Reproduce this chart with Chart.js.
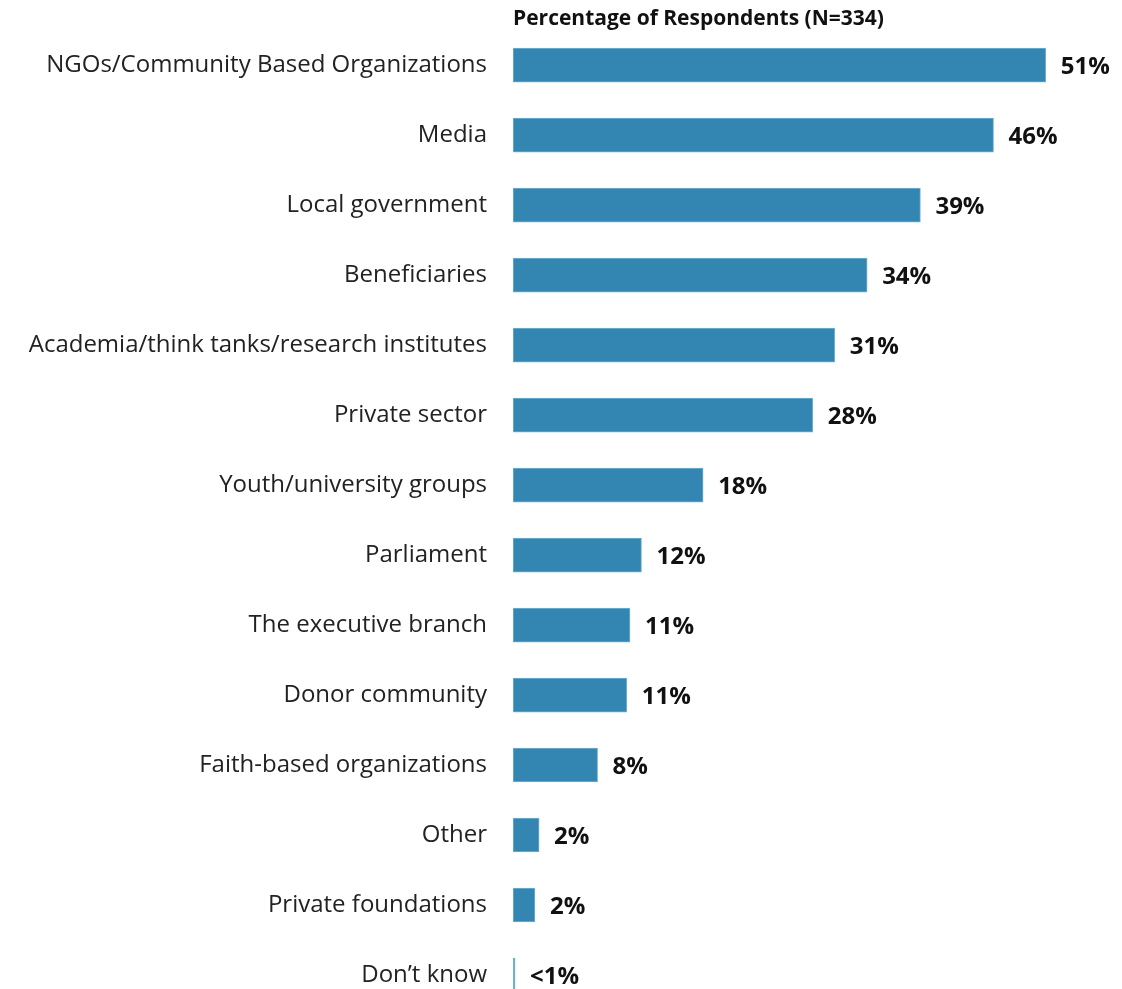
<!DOCTYPE html>
<html>
<head>
<meta charset="utf-8">
<script src="https://cdn.jsdelivr.net/npm/chart.js@4.4.0/dist/chart.umd.min.js"></script>
<style>
  html, body { margin: 0; padding: 0; background: #fff; overflow: hidden; }
  #cht { display: block; }
</style>
</head>
<body>
<canvas id="cht" width="1122" height="1010"></canvas>
<script>
// categories, top to bottom
const categories = [
    "NGOs/Community Based Organizations",
    "Media",
    "Local government",
    "Beneficiaries",
    "Academia/think tanks/research institutes",
    "Private sector",
    "Youth/university groups",
    "Parliament",
    "The executive branch",
    "Donor community",
    "Faith-based organizations",
    "Other",
    "Private foundations",
    "Don\u2019t know"
];
// percentages
const percentValues = [51.0, 46.0, 39.0, 33.9, 30.8, 28.7, 18.2, 12.3, 11.2, 10.9, 8.1, 2.5, 2.1, 0.2];
// printed labels
const valueLabels = ["51%", "46%", "39%", "34%", "31%", "28%", "18%", "12%", "11%", "11%", "8%", "2%", "2%", "<1%"];

const chartTitle = "Percentage of Respondents (N=334)";
const barBlue = "#3386b1";
const fontFam = "'Open Sans', 'Liberation Sans', sans-serif";

// bold % labels at the end of each bar
const valueLabelPlugin = {
    id: "valueLabels",
    afterDatasetsDraw(chart) {
        const ctx = chart.ctx;
        const meta = chart.getDatasetMeta(0);
        ctx.save();
        ctx.font = "bold 24px " + fontFam;
        ctx.fillStyle = "#111";
        ctx.textBaseline = "middle";
        ctx.textAlign = "left";
        meta.data.forEach((bar, i) => {
            ctx.fillText(valueLabels[i], bar.x + 15, bar.y + 2);
        });
        ctx.restore();
    }
};

const cht = document.getElementById("cht");
const chart = new Chart(cht, {
    type: "bar",
    data: {
        labels: categories,
        datasets: [{
            data: percentValues,
            backgroundColor: barBlue,
            borderColor: "#74b3d3",
            borderWidth: 1,
            borderSkipped: false,
            barThickness: 34
        }]
    },
    options: {
        indexAxis: "y",
        responsive: false,
        animation: false,
        layout: { padding: { top: 0, right: 24, bottom: 0, left: 0 } },
        plugins: {
            legend: { display: false },
            tooltip: { enabled: false },
            title: {
                display: true,
                text: chartTitle,
                align: "start",
                fullSize: false,
                color: "#111",
                font: { family: fontFam, size: 21, weight: "bold", lineHeight: 1.15 },
                padding: { top: 7, bottom: -1 }
            }
        },
        scales: {
            x: { display: false, min: 0, max: 56 },
            y: {
                grid: { display: false },
                border: { display: false },
                ticks: { color: "#222", padding: 18, font: { family: fontFam, size: 24 } },
                afterFit(scale) {
                    scale.width = 513;
                    // no extra room for half labels, rows fill the height
                    scale.paddingTop = 0;
                    scale.paddingBottom = 0;
                }
            }
        }
    },
    plugins: [valueLabelPlugin]
});
</script>
</body>
</html>
